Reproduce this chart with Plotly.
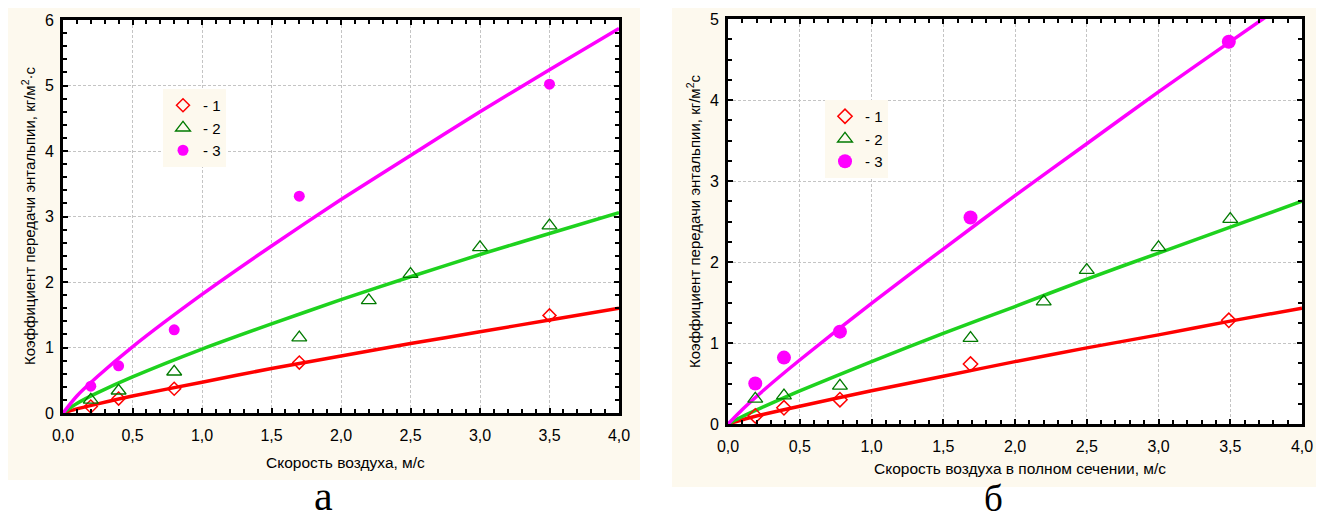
import plotly.graph_objects as go

# target page is 1324x521; the page body keeps an 8px margin, so the figure is
# drawn 16px smaller and every layout pixel below is shifted by that margin.
PAGE_W, PAGE_H = 1324, 521
OFF = 8
W, H = PAGE_W - 2 * OFF, PAGE_H - 2 * OFF

# ---------------- data: panel "а" ----------------
a_x13 = [0.2, 0.4, 0.8, 1.7, 3.5]
a_x2 = [0.2, 0.4, 0.8, 1.7, 2.2, 2.5, 3.0, 3.5]
a_y1 = [0.10, 0.22, 0.37, 0.77, 1.49]
a_y2 = [0.20, 0.34, 0.63, 1.15, 1.72, 2.12, 2.53, 2.86]
a_y3 = [0.41, 0.72, 1.27, 3.31, 5.02]

a_fx = [0, 0.1, 0.25, 0.5, 1.0, 1.5, 2.0, 2.5, 3.0, 3.5, 4.0]
a_f1 = [0, 0.063, 0.14, 0.26, 0.47, 0.68, 0.87, 1.06, 1.24, 1.42, 1.60]
a_f2 = [0, 0.145, 0.31, 0.55, 0.975, 1.36, 1.73, 2.08, 2.42, 2.74, 3.06]
a_f3 = [0, 0.26, 0.56, 1.01, 1.81, 2.55, 3.26, 3.93, 4.60, 5.24, 5.87]

# ---------------- data: panel "б" ----------------
b_x13 = [0.19, 0.39, 0.78, 1.69, 3.49]
b_x2 = [0.19, 0.39, 0.78, 1.69, 2.2, 2.5, 3.0, 3.5]
b_y1 = [0.10, 0.20, 0.30, 0.74, 1.28]
b_y2 = [0.31, 0.35, 0.47, 1.06, 1.51, 1.90, 2.18, 2.53]
b_y3 = [0.50, 0.82, 1.14, 2.55, 4.72]

b_fx = [0, 0.1, 0.25, 0.5, 1.0, 1.5, 2.0, 2.5, 3.0, 3.5, 4.0]
b_f1 = [0, 0.053, 0.12, 0.22, 0.41, 0.59, 0.77, 0.94, 1.10, 1.27, 1.43]
b_f2 = [0, 0.093, 0.215, 0.41, 0.77, 1.12, 1.45, 1.79, 2.11, 2.43, 2.75]
b_fx3 = [0, 0.1, 0.25, 0.5, 1.0, 1.5, 2.0, 2.5, 3.0, 3.5, 3.8]
b_f3 = [0, 0.18, 0.42, 0.79, 1.49, 2.16, 2.82, 3.46, 4.10, 4.72, 5.09]

legend_names = ["- 1", "- 2", "- 3"]
x_ticks = [0, 0.5, 1.0, 1.5, 2.0, 2.5, 3.0, 3.5, 4.0]

RED = "#FF0000"
GREEN_LINE = "#1ED21E"
GREEN_MK = "#007A00"
MAG = "#FF00FF"
CREAM = "#FDF9EE"
FONT = "Liberation Sans, Arial, sans-serif"
SERIF = "Liberation Serif, Times New Roman, serif"


def px(x):
    return (x - OFF) / W


def py(y):
    return 1 - (y - OFF) / H


fig = go.Figure()

# fitted curves
for xs, ys, col, xa, ya in [
    (a_fx, a_f1, RED, "x", "y"), (a_fx, a_f2, GREEN_LINE, "x", "y"), (a_fx, a_f3, MAG, "x", "y"),
    (b_fx, b_f1, RED, "x2", "y2"), (b_fx, b_f2, GREEN_LINE, "x2", "y2"), (b_fx3, b_f3, MAG, "x2", "y2"),
]:
    fig.add_trace(go.Scatter(x=xs, y=ys, mode="lines", xaxis=xa, yaxis=ya,
                             line=dict(color=col, width=3.5, shape="spline", smoothing=0.6),
                             showlegend=False, hoverinfo="skip"))

# markers panel a
fig.add_trace(go.Scatter(x=a_x13, y=a_y1, mode="markers", name=legend_names[0], legend="legend",
                         marker=dict(symbol="diamond-open", size=10, color=RED, line=dict(width=1.5, color=RED))))
fig.add_trace(go.Scatter(x=a_x2, y=a_y2, mode="markers", name=legend_names[1], legend="legend",
                         marker=dict(symbol="triangle-up-open", size=13, color=GREEN_MK, line=dict(width=1.3, color=GREEN_MK))))
fig.add_trace(go.Scatter(x=a_x13, y=a_y3, mode="markers", name=legend_names[2], legend="legend",
                         marker=dict(symbol="circle", size=11, color=MAG)))

# markers panel b
fig.add_trace(go.Scatter(x=b_x13, y=b_y1, mode="markers", name=legend_names[0], legend="legend2",
                         xaxis="x2", yaxis="y2",
                         marker=dict(symbol="diamond-open", size=11, color=RED, line=dict(width=1.5, color=RED))))
fig.add_trace(go.Scatter(x=b_x2, y=b_y2, mode="markers", name=legend_names[1], legend="legend2",
                         xaxis="x2", yaxis="y2",
                         marker=dict(symbol="triangle-up-open", size=13, color=GREEN_MK, line=dict(width=1.3, color=GREEN_MK))))
fig.add_trace(go.Scatter(x=b_x13, y=b_y3, mode="markers", name=legend_names[2], legend="legend2",
                         xaxis="x2", yaxis="y2",
                         marker=dict(symbol="circle", size=14, color=MAG)))

# panel backgrounds (cream) and white plot areas
shapes = [
    dict(type="rect", xref="paper", yref="paper", x0=px(5), x1=px(640), y0=py(480), y1=py(4),
         fillcolor=CREAM, line=dict(width=0), layer="below"),
    dict(type="rect", xref="paper", yref="paper", x0=px(672), x1=px(1318), y0=py(487), y1=py(4),
         fillcolor=CREAM, line=dict(width=0), layer="below"),
    dict(type="rect", xref="paper", yref="paper", x0=px(63), x1=px(619), y0=py(413), y1=py(20),
         fillcolor="white", line=dict(width=0), layer="below"),
    dict(type="rect", xref="paper", yref="paper", x0=px(728), x1=px(1302), y0=py(424), y1=py(19),
         fillcolor="white", line=dict(width=0), layer="below"),
]

common_axis = dict(
    showline=True, linecolor="black", linewidth=3, mirror="allticks",
    ticks="inside", ticklen=5, tickwidth=2, tickcolor="black",
    showgrid=True, gridcolor="#C4C4C4", gridwidth=1, griddash="3px,2px",
    zeroline=False, tickfont=dict(family=FONT, size=16, color="black"),
)

xaxis_common = dict(common_axis, range=[0, 4], tickvals=x_ticks, tickformat=".1f",
                    minor=dict(dtick=0.1, ticks="inside", ticklen=4, tickwidth=2, tickcolor="black", showgrid=False),
                    ticklabelstandoff=6)


def ann(text, x, y, size, family=FONT, angle=0):
    return dict(text=text, x=px(x), y=py(y), xref="paper", yref="paper", xanchor="center", yanchor="middle",
                showarrow=False, textangle=angle, font=dict(family=family, size=size, color="black"))


annotations = [
    ann("Скорость воздуха, м/с", 345, 462, 15.5),
    ann("Скорость воздуха в полном сечении, м/с", 1020, 468, 15.5),
    ann("Коэффициент передачи энтальпии, кг/м<sup>2</sup>·с", 29, 216, 15, angle=-90),
    ann("Коэффициент передачи энтальпии, кг/м<sup>2</sup>с", 694, 221, 15, angle=-90),
    ann("а", 323, 496, 42, family=SERIF),
    ann("б", 993, 498, 37, family=SERIF),
]

legend_common = dict(xanchor="left", yanchor="top", bgcolor=CREAM, borderwidth=0,
                     font=dict(family=FONT, size=15, color="black"), tracegroupgap=0)

fig.update_layout(
    width=W, height=H, margin=dict(l=0, r=0, t=0, b=0, autoexpand=False),
    paper_bgcolor="white", plot_bgcolor="white",
    separators=", ",
    font=dict(family=FONT, color="black"),
    xaxis=dict(xaxis_common, domain=[px(63), px(619)], anchor="y"),
    yaxis=dict(common_axis, domain=[py(413), py(20)], range=[0, 6], dtick=1, anchor="x",
               minor=dict(dtick=0.2, ticks="inside", ticklen=4, tickwidth=2, tickcolor="black", showgrid=False),
               ticklabelstandoff=3),
    xaxis2=dict(xaxis_common, domain=[px(728), px(1302)], anchor="y2"),
    yaxis2=dict(common_axis, domain=[py(424), py(19)], range=[0, 5], dtick=1, anchor="x2",
                minor=dict(dtick=0.25, ticks="inside", ticklen=4, tickwidth=2, tickcolor="black", showgrid=False),
                ticklabelstandoff=3),
    legend=dict(legend_common, x=px(163), y=py(89)),
    legend2=dict(legend_common, x=px(825), y=py(100)),
    shapes=shapes,
    annotations=annotations,
    showlegend=True,
)

fig.write_html("out.html", config={"displayModeBar": False})
